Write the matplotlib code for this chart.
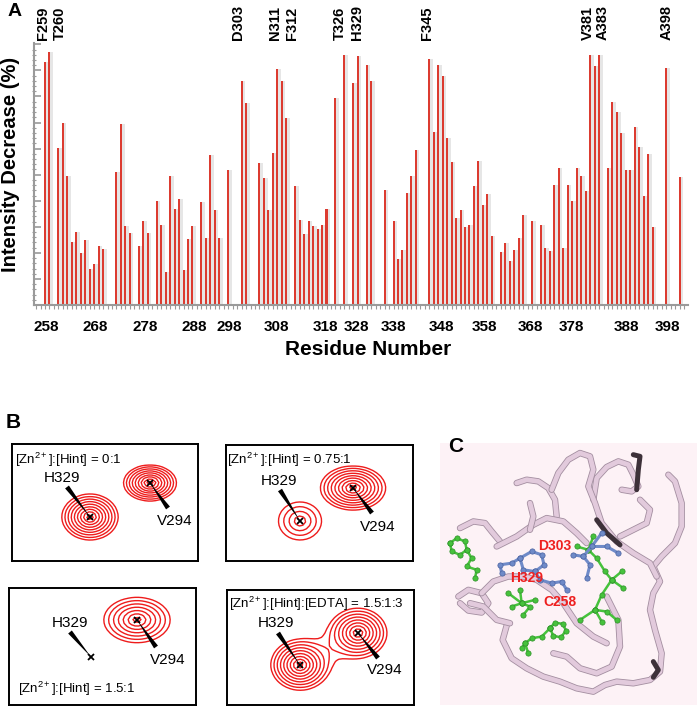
import numpy as np
import matplotlib
matplotlib.use("Agg")
import matplotlib.pyplot as plt
from matplotlib.ticker import MultipleLocator, FixedLocator
import matplotlib.patheffects as pe

plt.rcParams.update({
    "font.family": ["Liberation Sans", "DejaVu Sans"],
    "mathtext.fontset": "custom",
    "mathtext.rm": "Liberation Sans",
    "mathtext.it": "Liberation Sans:italic",
    "mathtext.bf": "Liberation Sans:bold",
})

W, H = 699, 708

# ---------------- panel A data ----------------
RESIDUES = [259, 260, 262, 263, 264, 265, 266, 267, 268, 269, 270, 271, 272,
            275, 276, 277, 278, 280, 281, 282, 284, 285, 286, 287, 288, 289,
            290, 291, 292, 294, 295, 296, 297, 298, 300, 303, 304, 307, 308,
            309, 310, 311, 312, 313, 315, 316, 317, 318, 319, 320, 321, 322,
            324, 326, 328, 329, 331, 332, 335, 337, 338, 339, 340, 341, 342,
            345, 346, 347, 348, 349, 350, 351, 352, 353, 354, 355, 356, 357,
            358, 359, 361, 362, 363, 364, 365, 366, 368, 370, 371, 372, 373,
            374, 375, 376, 377, 378, 379, 380, 381, 382, 383, 385, 386, 387,
            388, 389, 390, 391, 392, 393, 394, 395, 398, 401]
DECREASE = [93.1, 97.1, 60.1, 70.0, 49.4, 24.2, 27.9, 20.1, 24.8, 13.7, 15.8, 22.6, 21.5,
            51.1, 69.6, 30.4, 27.5, 22.5, 32.4, 27.7, 39.9, 30.8, 12.7, 49.6, 37.0, 40.7,
            13.4, 25.4, 30.3, 39.6, 25.8, 57.6, 36.3, 25.8, 51.7, 85.9, 77.4, 54.6, 48.6,
            36.3, 58.3, 90.5, 86.1, 71.8, 45.7, 32.7, 27.2, 32.3, 30.3, 29.1, 30.8, 36.9,
            79.5, 95.8, 85.2, 95.7, 92.0, 85.9, 44.0, 32.4, 17.8, 21.0, 43.1, 49.4, 59.5,
            94.5, 66.4, 92.2, 87.9, 64.2, 54.7, 33.3, 36.3, 29.9, 30.5, 45.8, 55.3, 38.4,
            42.5, 26.5, 20.2, 23.8, 16.9, 21.2, 25.8, 34.6, 32.4, 30.5, 22.0, 20.7, 46.1,
            52.7, 22.0, 46.1, 39.9, 52.5, 49.5, 43.8, 95.9, 91.6, 95.9, 52.7, 77.7, 74.0,
            66.0, 51.9, 51.9, 68.2, 60.6, 42.0, 58.1, 30.0, 90.8, 49.1]

TICK_LABELS = ["258", "268", "278", "288", "298", "308", "318", "328",
               "338", "348", "358", "368", "378", "388", "398"]
TICK_POS = [259.2, 270.2, 281.4, 292.5, 300.2, 310.9, 321.7, 328.8,
            336.9, 347.8, 357.3, 367.6, 376.7, 389.1, 398.4]

HOT_LABELS = ["F259", "T260", "D303", "N311", "F312", "T326", "H329",
              "F345", "V381", "A383", "A398"]
HOT_POS = [258.55, 262.4, 302.2, 310.5, 314.3, 325.0, 328.8,
           344.5, 380.5, 383.9, 398.2]

# ---------------- panel B data ----------------
# box rectangles in image pixels: x0, y0, w, h
BOXES = [(12, 444, 186, 117), (226, 445, 187, 116),
         (9, 588, 187, 117), (227, 590, 187, 115)]
BOX_TEXT = ["[Zn$\\mathregular{^{2+}}$]:[Hint] = 0:1",
            "[Zn$\\mathregular{^{2+}}$]:[Hint] = 0.75:1",
            "[Zn$\\mathregular{^{2+}}$]:[Hint] = 1.5:1",
            "[Zn$\\mathregular{^{2+}}$]:[Hint]:[EDTA] = 1.5:1:3"]
BOX_TEXT_XY = [(3, 16), (1, 15), (9, 101), (2, 14)]
# peaks per box: (cx, cy, sx, sy, amplitude)
H329_PEAK = [(78, 73, 11.9, 9.7, 10.6), (74, 76, 20.2, 17.8, 2.9),
             (82, 69, 1.0, 1.0, 0.0), (73, 75, 12.3, 10.6, 10.6)]
V294_PEAK = [(138, 39, 11.2, 7.6, 10.6), (127, 43, 13.8, 9.3, 10.6),
             (128, 32, 18.5, 12.6, 6.0), (131, 43, 13.1, 11.2, 9.0)]
PEAKS_OVERLAP = [False, False, False, True]
H329_LABEL_XY = [(50, 34), (53, 36), (61, 35), (49, 33)]
H329_WEDGE_START = [(55, 43), (54, 45), (61, 44), (51, 43)]
V294_LABEL_XY = [(163, 77), (152, 82), (159, 72), (158, 80)]
V294_WEDGE_START = [(156, 64), (146, 68), (147, 59), (151, 68)]
CONTOUR_LEVELS = 1.3 ** np.arange(0, 12)

# ---------------- panel C data (structure cartoon, picture coords) ----------------
RIBBONS = [
    [(745, 255), (765, 275), (785, 340), (785, 410), (765, 460), (725, 500), (700, 530),
     (720, 575), (700, 610), (690, 660), (705, 720), (725, 790), (720, 845), (690, 870),
     (640, 880), (590, 875), (555, 885), (520, 905), (470, 895), (420, 875), (370, 860),
     (320, 835), (275, 805), (248, 750), (262, 700)],
    [(520, 330), (530, 265), (560, 232), (595, 215), (625, 225), (640, 255), (655, 290),
     (635, 305), (605, 300)],
    [(290, 280), (320, 270), (355, 275), (385, 295), (405, 330), (410, 380)],
    [(395, 300), (415, 250), (445, 210), (480, 190), (510, 200), (520, 240), (505, 290),
     (525, 340), (545, 400), (590, 455), (640, 490), (690, 520), (710, 560)],
    [(120, 415), (160, 395), (195, 400), (215, 425), (240, 455)],
    [(115, 620), (145, 600), (185, 610), (205, 640), (185, 668), (145, 662), (120, 640)],
    [(185, 610), (220, 575), (265, 560), (310, 560), (350, 570), (395, 600), (430, 640),
     (470, 700), (520, 740), (560, 760)],
    [(230, 470), (290, 440), (340, 405), (380, 385), (430, 395), (470, 430), (500, 460)],
    [(560, 620), (595, 690), (600, 770), (575, 830), (530, 850), (480, 835), (440, 800),
     (400, 790)],
    [(600, 440), (640, 420), (680, 400), (690, 360), (660, 330)],
    [(330, 340), (340, 380), (330, 420)],
    [(150, 640), (190, 650), (230, 690), (270, 700)],
]
DARK_RIBBONS = [
    [(640, 195), (660, 200), (655, 240), (650, 300)],
    [(530, 390), (560, 430), (600, 465)],
    [(700, 815), (715, 840), (700, 862)],
]
GREEN_CHAINS = [
    [(90, 460), (110, 445), (135, 455), (140, 480), (120, 495), (95, 485), (90, 460)],
    [(140, 480), (155, 505), (140, 530), (170, 540), (165, 565)],
    [(390, 715), (405, 698), (428, 702), (438, 722), (423, 742), (400, 738), (390, 715)],
    [(390, 715), (365, 740), (335, 745), (315, 760), (305, 775)],
    [(315, 760), (325, 790)],
    [(300, 600), (305, 640), (265, 610)],
    [(275, 650), (305, 640), (330, 650), (310, 675)],
    [(305, 640), (345, 630)],
    [(470, 470), (505, 480), (520, 440)],
    [(505, 480), (530, 505), (555, 545), (575, 570), (605, 545)],
    [(575, 570), (610, 595)],
    [(575, 570), (545, 615), (525, 660), (480, 690)],
    [(525, 660), (560, 665), (590, 690)],
    [(525, 660), (545, 695)],
]
BLUE_CHAINS = [
    [(245, 550), (240, 525), (275, 520), (300, 505), (335, 485), (365, 495), (372, 525),
     (345, 545), (310, 540), (300, 505)],
    [(345, 545), (360, 570), (395, 580), (425, 575), (440, 600)],
    [(460, 495), (490, 500), (515, 470), (545, 430)],
    [(490, 500), (510, 525), (500, 565)],
    [(515, 470), (560, 470), (595, 490)],
]
C_LABELS = ["D303", "H329", "C258"]
C_LABEL_XY = [(405, 470), (320, 565), (420, 635)]


def fig_rect(x0, y0, w, h):
    return [x0 / W, 1 - (y0 + h) / H, w / W, h / H]


def wedge(ax, start, tip, width=4.8):
    s = np.array(start, float)
    t = np.array(tip, float)
    d = t - s
    n = np.array([-d[1], d[0]]) / np.hypot(*d) * width / 2
    pts = np.array([s + n, s - n, t])
    ax.fill(pts[:, 0], pts[:, 1], color="black", lw=0, zorder=4)


def peak(X, Y, p):
    cx, cy, sx, sy, amp = p
    return amp * np.exp(-np.sqrt(((X - cx) / sx) ** 2 + ((Y - cy) / sy) ** 2))


fig = plt.figure(figsize=(W / 100, H / 100), dpi=100)

# ================= panel A =================
ax = fig.add_axes(fig_rect(34, 43, 654, 262))
res = np.array(RESIDUES)
vals = np.array(DECREASE)
ax.bar(res + 0.4, vals, width=0.8, color="#e6e6e6", zorder=1)
ax.bar(res, vals, width=0.45, color="#dc3b30", zorder=2)
ax.set_xlim(256.54, 402.9)
ax.set_ylim(0, 100.5)
for s in ["top", "right"]:
    ax.spines[s].set_visible(False)
for s in ["left", "bottom"]:
    ax.spines[s].set_color("#9a9a9a")
    ax.spines[s].set_linewidth(1.5)
ax.yaxis.set_major_locator(MultipleLocator(10))
ax.yaxis.set_minor_locator(MultipleLocator(2))
ax.tick_params(axis="y", which="major", direction="in", length=5, width=1.2,
               color="#9a9a9a", labelleft=False)
ax.tick_params(axis="y", which="minor", direction="inout", length=3, width=0.8,
               color="#9a9a9a")
ax.xaxis.set_major_locator(FixedLocator(TICK_POS))
ax.set_xticklabels(TICK_LABELS)
ax.xaxis.set_minor_locator(MultipleLocator(1))
ax.tick_params(axis="x", which="major", direction="out", length=0, pad=11,
               labelsize=11)
ax.tick_params(axis="x", which="minor", direction="out", length=3, width=0.8,
               color="#9a9a9a")
for lbl in ax.get_xticklabels():
    lbl.set_fontweight("bold")
for name, xp in zip(HOT_LABELS, HOT_POS):
    ax.text(xp, 101.5, name, rotation=90, ha="center", va="bottom",
            fontsize=10.5, fontweight="bold")

fig.text(368 / W, 1 - 350 / H, "Residue Number", ha="center", va="center",
         fontsize=15, fontweight="bold")
fig.text(10.5 / W, 1 - 164 / H, "Intensity Decrease (%)", rotation=90,
         ha="center", va="center", fontsize=14.5, fontweight="bold")
fig.text(15 / W, 1 - 12 / H, "A", ha="center", va="center", fontsize=14,
         fontweight="bold")

# ================= panel B =================
fig.text(13 / W, 1 - 423 / H, "B", ha="center", va="center", fontsize=15,
         fontweight="bold")
for i, (x0, y0, w, h) in enumerate(BOXES):
    bx = fig.add_axes(fig_rect(x0, y0, w, h))
    bx.set_xlim(0, w)
    bx.set_ylim(h, 0)
    bx.set_xticks([])
    bx.set_yticks([])
    for s in bx.spines.values():
        s.set_linewidth(1.4)
    gx = np.arange(0, w + 3, 3.5)
    gy = np.arange(0, h + 3, 3.5)
    X, Y = np.meshgrid(gx, gy)
    z1 = peak(X, Y, H329_PEAK[i])
    z2 = peak(X, Y, V294_PEAK[i])
    Z = z1 + z2 if PEAKS_OVERLAP[i] else np.maximum(z1, z2)
    bx.contour(X, Y, Z, levels=CONTOUR_LEVELS, colors="#ee1c1c", linewidths=1.0)
    for p in (H329_PEAK[i], V294_PEAK[i]):
        bx.plot(p[0], p[1], marker="x", color="black", ms=4, mew=1.3, zorder=5)
    wedge(bx, H329_WEDGE_START[i], H329_PEAK[i][:2])
    wedge(bx, V294_WEDGE_START[i], V294_PEAK[i][:2])
    bx.text(*H329_LABEL_XY[i], "H329", ha="center", va="center", fontsize=11)
    bx.text(*V294_LABEL_XY[i], "V294", ha="center", va="center", fontsize=11)
    bx.text(*BOX_TEXT_XY[i], BOX_TEXT[i], ha="left", va="center", fontsize=9.5)

# ================= panel C =================
cx = fig.add_axes(fig_rect(440, 443, 257, 262))
cx.set_xlim(60, 831)
cx.set_ylim(945, 160)
cx.set_facecolor("#fdf2f6")
cx.set_xticks([])
cx.set_yticks([])
for s in cx.spines.values():
    s.set_visible(False)
for path in RIBBONS:
    p = np.array(path)
    cx.plot(p[:, 0], p[:, 1], color="#e2cadc", lw=3.4, solid_capstyle="round",
            solid_joinstyle="round", zorder=2,
            path_effects=[pe.Stroke(linewidth=4.6, foreground="#a38ea0"), pe.Normal()])
for path in DARK_RIBBONS:
    p = np.array(path)
    cx.plot(p[:, 0], p[:, 1], color="#3d3139", lw=3.6, solid_capstyle="round",
            solid_joinstyle="round", zorder=3)
for path in GREEN_CHAINS:
    p = np.array(path)
    cx.plot(p[:, 0], p[:, 1], "-o", color="#46c23c", lw=1.8, ms=3.8,
            mec="#2f8f2a", mew=0.5, zorder=4)
for path in BLUE_CHAINS:
    p = np.array(path)
    cx.plot(p[:, 0], p[:, 1], "-o", color="#6f8ac8", lw=2.2, ms=3.8,
            mec="#4a62a0", mew=0.5, zorder=4)
for name, (tx, ty) in zip(C_LABELS, C_LABEL_XY):
    cx.text(tx, ty, name, color="#ee1f1f", fontsize=10, fontweight="bold",
            ha="center", va="center", zorder=6)
fig.text(456 / W, 1 - 446 / H, "C", ha="center", va="center", fontsize=15,
         fontweight="bold")

fig.savefig("out.png", dpi=100)
